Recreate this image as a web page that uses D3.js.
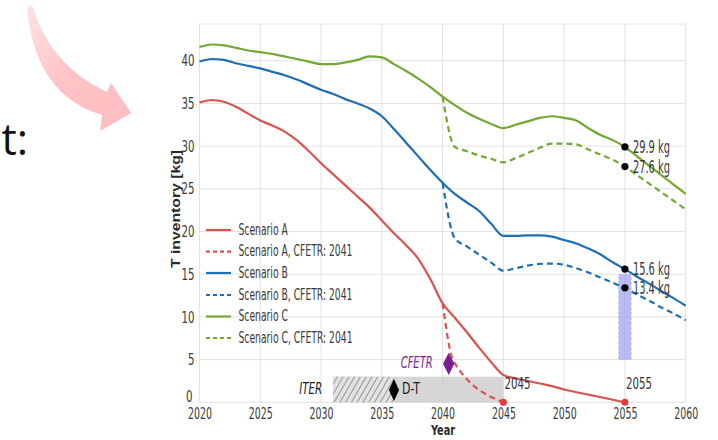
<!DOCTYPE html>
<html><head><meta charset="utf-8">
<script src="https://cdn.jsdelivr.net/npm/d3@7"></script>
<style>
html,body{margin:0;padding:0;background:#fff;}
svg{display:block;}
text{font-family:"Liberation Sans Narrow","DejaVu Sans Condensed","Arial Narrow",sans-serif;}
</style></head>
<body>
<svg id="chart" width="718" height="440"></svg>
<script>
// ---------------- data ----------------
const years = [2020,2025,2030,2035,2040,2045,2050,2055,2060];
const yTicks = [0,5,10,15,20,25,30,35,40];

const redSolid = [[2020,35.1],[2021,35.4],[2022,35.2],[2023,34.6],[2024,33.8],[2025,33.0],[2026,32.4],[2027,31.7],[2028,30.7],[2029,29.4],[2030,28.0],[2031,26.7],[2032,25.4],[2033,24.1],[2034,22.8],[2035,21.3],[2036,19.8],[2037,18.4],[2038,16.8],[2039,14.4],[2040,11.6],[2041,9.9],[2042,8.2],[2043,6.4],[2044,4.7],[2045,3.2],[2046,2.8],[2047,2.5],[2048,2.2],[2049,1.9],[2050,1.5],[2052,0.9],[2054,0.3],[2055,0]];
const redDash = [[2040,11.6],[2040.9,4.8],[2045,0]];
const blueSolid = [[2020,39.9],[2021,40.2],[2022,40.1],[2023,39.7],[2024,39.4],[2025,39.1],[2026,38.7],[2027,38.3],[2028,37.8],[2029,37.2],[2030,36.6],[2031,36.1],[2032,35.5],[2033,35.0],[2034,34.4],[2035,33.5],[2036,32.0],[2037,30.4],[2038,28.8],[2039,27.2],[2040,25.7],[2041,24.4],[2042,23.4],[2043,22.4],[2044,20.9],[2045,19.5],[2046,19.5],[2047,19.55],[2048,19.55],[2049,19.4],[2050,19.0],[2051,18.6],[2052,18.0],[2053,17.3],[2054,16.4],[2055,15.6],[2056,14.7],[2057,13.9],[2058,13.0],[2059,12.2],[2060,11.3]];
const blueDash = [[2040,25.7],[2041,19.2],[2042,18.25],[2043,17.3],[2044,16.35],[2045,15.4],[2046,15.7],[2047,16.0],[2048,16.2],[2049,16.25],[2050,16.1],[2051,15.7],[2052,15.2],[2053,14.6],[2054,14.0],[2055,13.35],[2056,12.6],[2057,11.9],[2058,11.1],[2059,10.4],[2060,9.6]];
const greenSolid = [[2020,41.6],[2021,41.9],[2022,41.8],[2023,41.5],[2024,41.2],[2025,41.0],[2026,40.8],[2027,40.5],[2028,40.2],[2029,39.9],[2030,39.6],[2031,39.6],[2032,39.8],[2033,40.1],[2034,40.5],[2035,40.4],[2036,39.6],[2037,38.8],[2038,37.9],[2039,36.9],[2040,35.8],[2041,34.8],[2042,33.9],[2043,33.2],[2044,32.6],[2045,32.1],[2046,32.5],[2047,32.9],[2048,33.3],[2049,33.5],[2050,33.3],[2051,33.0],[2052,32.1],[2053,31.3],[2054,30.7],[2055,29.9],[2056,28.8],[2057,27.7],[2058,26.6],[2059,25.5],[2060,24.4]];
const greenDash = [[2040,35.8],[2041,29.9],[2042,29.4],[2043,28.9],[2044,28.5],[2045,28.1],[2046,28.6],[2047,29.2],[2048,29.8],[2049,30.3],[2050,30.3],[2051,30.2],[2052,29.6],[2053,29.0],[2054,28.4],[2055,27.6],[2056,26.6],[2057,25.6],[2058,24.6],[2059,23.6],[2060,22.6]];

const seriesNames = ["Scenario A","Scenario A, CFETR: 2041","Scenario B","Scenario B, CFETR: 2041","Scenario C","Scenario C, CFETR: 2041"];
const seriesData = [redSolid, redDash, blueSolid, blueDash, greenSolid, greenDash];
const seriesColors = ["#d9534f","#d9534f","#1f6fb2","#1f6fb2","#74a832","#74a832"];
const seriesDashed = [false,true,false,true,false,true];

const markers2055 = [29.9, 27.6, 15.6, 13.4];
const markerLabels = ["29.9 kg","27.6 kg","15.6 kg","13.4 kg"];
const redDots = [2045, 2055];
const redDotLabels = ["2045","2055"];
const iterBox = {x0:2031, x1:2045, hatchEnd:2036, top:3};
const dtPoint = [2036, 1.45];
const cfetrPoint = [2040.5, 4.5];
const bandRange = {x0:2054.5, x1:2055.5, y0:5, y1:15};

// ---------------- setup ----------------
const svg = d3.select("#chart");
const x = d3.scaleLinear().domain([2020,2060]).range([199.5,685.7]);
const y = d3.scaleLinear().domain([0,44.3]).range([402.3,24]);

// horizontally condense texts (reference glyphs are narrow)
function squeeze(sel, k){
  sel.each(function(){
    const len = this.getComputedTextLength();
    d3.select(this).attr("textLength", len*k).attr("lengthAdjust","spacingAndGlyphs");
  });
}
function squeezeTo(sel, longestW){
  let m = 0; sel.each(function(){ m = Math.max(m, this.getComputedTextLength()); });
  squeeze(sel, longestW/m);
}
function fitW(sel, w){
  sel.attr("textLength", w).attr("lengthAdjust","spacingAndGlyphs");
}

const defs = svg.append("defs");
const grad = defs.append("linearGradient").attr("id","arrowGrad")
  .attr("x1","0").attr("y1","0").attr("x2","1").attr("y2","1");
grad.append("stop").attr("offset","0").attr("stop-color","#ffe4e6");
grad.append("stop").attr("offset","0.45").attr("stop-color","#ffc4c6");
grad.append("stop").attr("offset","1").attr("stop-color","#ffbcbf");
const pat = defs.append("pattern").attr("id","hatch").attr("patternUnits","userSpaceOnUse")
  .attr("width",5).attr("height",5).attr("patternTransform","rotate(30)");
pat.append("rect").attr("width",5).attr("height",5).attr("fill","#e2e2e2");
pat.append("line").attr("x1",0).attr("y1",0).attr("x2",0).attr("y2",5).attr("stroke","#4a4a4a").attr("stroke-width",1);

// decorative slide elements (arrow + partial text)
svg.append("path")
  .attr("d","M32,5 Q50,66 107,92 L111,83 L131,113 L100,131 L102,115 Q35,95 27,8 Z")
  .attr("fill","url(#arrowGrad)");
svg.append("text").attr("x",28).attr("y",155).attr("text-anchor","end")
  .style("font-family","'Open Sans','DejaVu Sans',sans-serif").style("font-size","43px").attr("fill","#111").text("t:");

// grid
const g = svg.append("g");
g.selectAll(".vg").data(years).join("line")
  .attr("x1",d=>x(d)).attr("x2",d=>x(d)).attr("y1",y(44.3)).attr("y2",y(0))
  .attr("stroke","#e2e2e2").attr("stroke-width",1);
g.selectAll(".hg").data(yTicks.concat([44.3])).join("line")
  .attr("x1",x(2020)).attr("x2",x(2060)).attr("y1",d=>y(d)).attr("y2",d=>y(d))
  .attr("stroke","#e2e2e2").attr("stroke-width",1);

// axes tick labels via d3 axes
const xAxis = d3.axisBottom(x).tickValues(years).tickFormat(d3.format("d")).tickSize(0).tickPadding(4);
const ax = svg.append("g").attr("transform",`translate(0,${y(0)+1})`).call(xAxis);
ax.select(".domain").remove();
ax.selectAll("text").style("font-size","16px").attr("fill","#3a3a3a").style("font-family","'Liberation Sans Narrow','DejaVu Sans Condensed',sans-serif");
const yAxis = d3.axisLeft(y).tickValues(yTicks).tickSize(0).tickPadding(3);
const ay = svg.append("g").attr("transform",`translate(${x(2020)-2},0)`).call(yAxis);
ay.select(".domain").remove();
ay.selectAll("text").style("font-size","16px").attr("fill","#3a3a3a").style("font-family","'Liberation Sans Narrow','DejaVu Sans Condensed',sans-serif");
ay.selectAll(".tick").filter(d=>d===0).select("text").attr("dy","-0.05em").attr("x",-5);

// axis titles
svg.append("text").attr("transform","translate(176,209) rotate(-90)")
  .attr("text-anchor","middle").attr("dominant-baseline","middle")
  .attr("textLength",118).attr("lengthAdjust","spacingAndGlyphs")
  .style("font-family","'Liberation Sans','DejaVu Sans',sans-serif")
  .style("font-size","13.5px").style("font-weight","bold").attr("fill","#2a2a2a").text("T inventory [kg]");
const yearT = svg.append("text").attr("x",443).attr("y",435).attr("text-anchor","middle")
  .style("font-size","14.5px").style("font-weight","bold").attr("fill","#2a2a2a").text("Year");

// ITER box
svg.append("rect").attr("x",x(iterBox.x0)).attr("y",y(iterBox.top))
  .attr("width",x(iterBox.x1)-x(iterBox.x0)).attr("height",y(0)-y(iterBox.top))
  .attr("fill","#c8c8c8").attr("fill-opacity",0.75);
svg.append("rect").attr("x",x(iterBox.x0)).attr("y",y(iterBox.top))
  .attr("width",x(iterBox.hatchEnd)-x(iterBox.x0)).attr("height",y(0)-y(iterBox.top))
  .attr("fill","url(#hatch)");
const iterT = svg.append("text").attr("x",x(iterBox.x0)-11).attr("y",y(1.45)).attr("text-anchor","end")
  .attr("dominant-baseline","middle").style("font-size","15px").style("font-style","italic").attr("fill","#222").text("ITER");

// purple band
svg.append("rect").attr("x",x(bandRange.x0)).attr("y",y(bandRange.y1))
  .attr("width",x(bandRange.x1)-x(bandRange.x0)).attr("height",y(bandRange.y0)-y(bandRange.y1))
  .attr("fill","#8f8ff0").attr("fill-opacity",0.62)
  .attr("stroke","#b4b4f8").attr("stroke-dasharray","3,2").attr("stroke-width",1);

// lines
const line = d3.line().x(d=>x(d[0])).y(d=>y(d[1])).curve(d3.curveMonotoneX);
const order = [0,1,2,3,4,5];
svg.selectAll(".series").data(order).join("path")
  .attr("d",i=>line(seriesData[i]))
  .attr("fill","none").attr("stroke",i=>seriesColors[i]).attr("stroke-width",2.2)
  .attr("stroke-dasharray",i=>seriesDashed[i]?"6,4":null);

// CFETR diamond
const diamond = d3.symbol().type(d3.symbolDiamond);
svg.append("path").attr("d",diamond.size(110)()).attr("transform",`translate(${x(cfetrPoint[0])},${y(cfetrPoint[1])}) scale(1,1.15)`)
  .attr("fill","#7b1d8e");
const cfT = svg.append("text").attr("x",x(cfetrPoint[0])-16).attr("y",y(cfetrPoint[1])).attr("text-anchor","end")
  .attr("dominant-baseline","middle").style("font-size","15px").style("font-style","italic").attr("fill","#7b1d8e").text("CFETR");

// D-T diamond
svg.append("path").attr("d",diamond.size(90)()).attr("transform",`translate(${x(dtPoint[0])},${y(dtPoint[1])}) scale(1,1.25)`)
  .attr("fill","#000");
const dtT = svg.append("text").attr("x",x(dtPoint[0])+8).attr("y",y(dtPoint[1])).attr("dominant-baseline","middle")
  .style("font-size","15px").attr("fill","#222").text("D-T");

// red dots + labels
svg.selectAll(".rd").data(redDots).join("circle")
  .attr("cx",d=>x(d)).attr("cy",y(0)).attr("r",3.5).attr("fill","#e03a3a");
const rdl = svg.selectAll(".rdl").data(redDots).join("text")
  .attr("x",d=>x(d)+1).attr("y",y(2.05)).attr("dominant-baseline","middle")
  .style("font-size","16px").attr("fill","#333").text((d,i)=>redDotLabels[i]);

// 2055 markers
svg.selectAll(".mk").data(markers2055).join("circle")
  .attr("cx",x(2055)).attr("cy",d=>y(d)).attr("r",3.6).attr("fill","#000");
const mkl = svg.selectAll(".mkl").data(markers2055).join("text")
  .attr("x",x(2055)+8).attr("y",d=>y(d)+1).attr("dominant-baseline","middle")
  .style("font-size","17px").attr("fill","#3a3a3a").text((d,i)=>markerLabels[i]);

// legend
const lg = svg.append("g");
const rowY = [230,251.7,273,295,316.5,338];
seriesNames.forEach((name,i)=>{
  lg.append("line").attr("x1",206).attr("x2",231).attr("y1",rowY[i]).attr("y2",rowY[i])
    .attr("stroke",seriesColors[i]).attr("stroke-width",2.2).attr("stroke-dasharray",seriesDashed[i]?"4,3":null);
  lg.append("text").attr("class","lgt").attr("x",238.5).attr("y",rowY[i]).attr("dominant-baseline","middle")
    .style("font-size","15.5px").attr("fill","#3a3a3a").text(name);
});

// condense texts to match narrow reference glyphs
squeezeTo(ax.selectAll("text"), 24);
squeezeTo(ay.selectAll("text"), 13);
squeezeTo(lg.selectAll("text"), 114);
squeezeTo(mkl, 37);
squeezeTo(rdl, 26);
fitW(cfT, 32);
fitW(iterT, 23);
fitW(dtT, 18);
fitW(yearT, 24);
</script>
</body></html>
